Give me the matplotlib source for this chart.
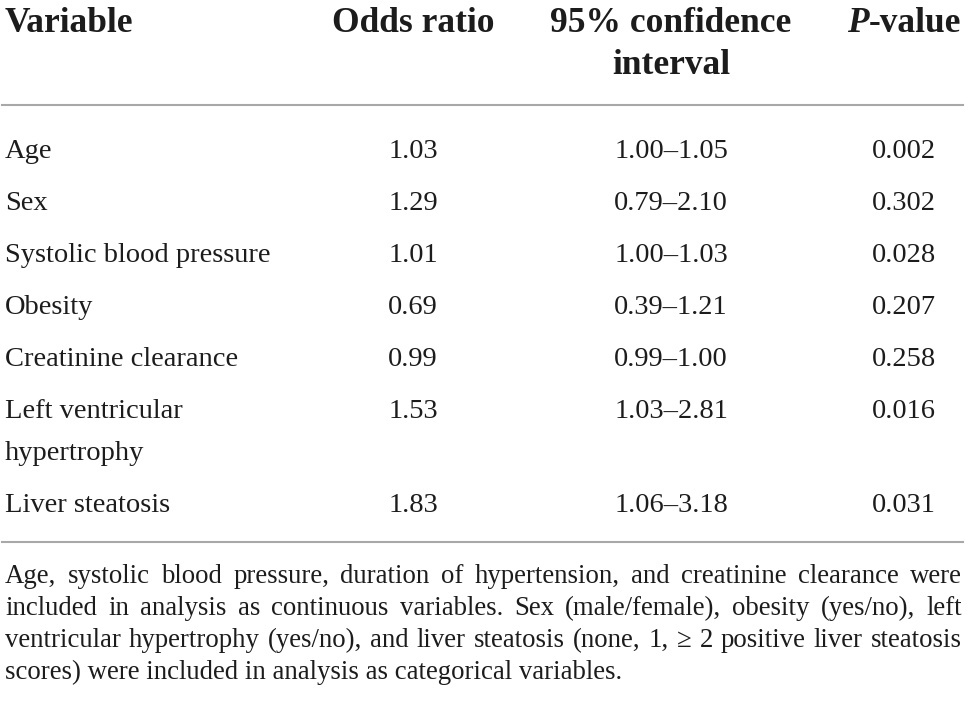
import matplotlib
matplotlib.use("Agg")
import matplotlib.pyplot as plt

W, H = 969, 708

variables = ["Age", "Sex", "Systolic blood pressure", "Obesity",
             "Creatinine clearance", "Left ventricular\nhypertrophy", "Liver steatosis"]
odds_ratio = ["1.03", "1.29", "1.01", "0.69", "0.99", "1.53", "1.83"]
conf_int = ["1.00–1.05", "0.79–2.10", "1.00–1.03", "0.39–1.21",
            "0.99–1.00", "1.03–2.81", "1.06–3.18"]
p_values = ["0.002", "0.302", "0.028", "0.207", "0.258", "0.016", "0.031"]

footnote_lines = [
    "Age, systolic blood pressure, duration of hypertension, and creatinine clearance were",
    "included in analysis as continuous variables. Sex (male/female), obesity (yes/no), left",
    "ventricular hypertrophy (yes/no), and liver steatosis (none, 1, ≥ 2 positive liver steatosis",
    "scores) were included in analysis as categorical variables.",
]

FONT = "Liberation Serif"
TXT = "#1c1c1c"
HEAD_SIZE = 25.5
BODY_SIZE = 20.5
FOOT_SIZE = 19.3

fig = plt.figure(figsize=(W / 100, H / 100), dpi=100)
fig.patch.set_facecolor("white")


def fx(px):
    return px / W


def fy(py):
    return 1 - py / H


def put(x, y, s, ha="left", size=BODY_SIZE, weight="normal", style="normal"):
    return fig.text(fx(x), fy(y), s, ha=ha, va="baseline", fontsize=size,
                    family=FONT, weight=weight, style=style, color=TXT)


renderer = fig.canvas.get_renderer()


def width_of(s, size, weight="normal", style="normal"):
    t = fig.text(0, 0, s, fontsize=size, family=FONT, weight=weight, style=style)
    w = t.get_window_extent(renderer).width
    t.remove()
    return w


# column centers
X_VAR = 5
X_OR = 413
X_CI = 671
X_P = 904

# header
put(X_VAR, 32, "Variable", size=HEAD_SIZE, weight="bold")
put(X_OR, 32, "Odds ratio", ha="center", size=HEAD_SIZE, weight="bold")
put(X_CI, 32, "95% confidence", ha="center", size=HEAD_SIZE, weight="bold")
put(X_CI, 74, "interval", ha="center", size=HEAD_SIZE, weight="bold")
wp = width_of("P", HEAD_SIZE, "bold", "italic")
wv = width_of("-value", HEAD_SIZE, "bold")
start = X_P - (wp + wv) / 2
put(start, 32, "P", size=HEAD_SIZE, weight="bold", style="italic")
put(start + wp, 32, "-value", size=HEAD_SIZE, weight="bold")

# rules
RULE_C = "#a8a8a8"
fig.add_artist(plt.Line2D([fx(2), fx(963)], [fy(105), fy(105)], color=RULE_C, lw=1.5))
fig.add_artist(plt.Line2D([fx(2), fx(963)], [fy(542), fy(542)], color=RULE_C, lw=1.5))

# body rows
y = 158
ROW_STEP = 52
LINE_STEP = 42
for var, o, c, p in zip(variables, odds_ratio, conf_int, p_values):
    lines = var.split("\n")
    for k, ln in enumerate(lines):
        put(X_VAR, y + k * LINE_STEP, ln)
    put(X_OR, y, o, ha="center")
    put(X_CI, y, c, ha="center")
    put(X_P, y, p, ha="center")
    y += ROW_STEP + (len(lines) - 1) * LINE_STEP

# footnote (justified)
LEFT, RIGHT = 5, 962
fy0 = 583
FOOT_STEP = 32
for i, line in enumerate(footnote_lines):
    yy = fy0 + i * FOOT_STEP
    if i == len(footnote_lines) - 1:
        put(LEFT, yy, line, size=FOOT_SIZE)
        continue
    words = line.split(" ")
    widths = [width_of(w, FOOT_SIZE) for w in words]
    gap = (RIGHT - LEFT - sum(widths)) / (len(words) - 1)
    x = LEFT
    for w, wd in zip(words, widths):
        put(x, yy, w, size=FOOT_SIZE)
        x += wd + gap

fig.savefig("out.png", dpi=100, facecolor="white")
